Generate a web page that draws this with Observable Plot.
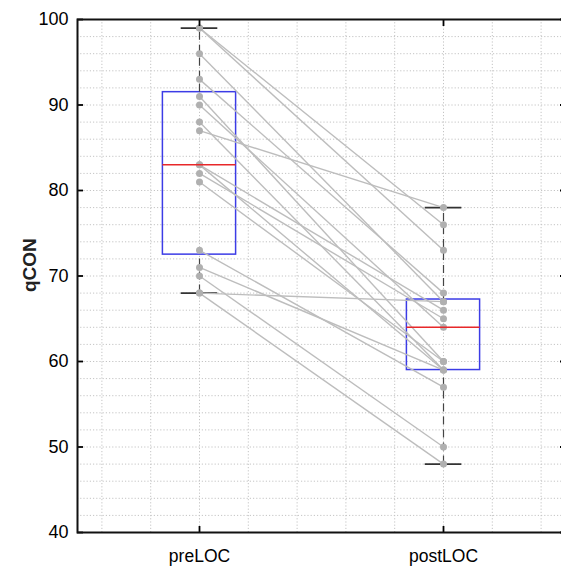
<!DOCTYPE html>
<html><head><meta charset="utf-8">
<script src="https://cdn.jsdelivr.net/npm/d3@7"></script>
<script src="https://cdn.jsdelivr.net/npm/@observablehq/plot@0.6"></script>
<style>
html,body{margin:0;padding:0;overflow:hidden;background:#fff;}
svg{max-width:none !important;display:block;}
</style></head><body><div id="chart"></div>
<script>
// ---- data ----
const categories = ["preLOC", "postLOC"];
const preLOC  = [99, 99, 96, 93, 91, 90, 88, 87, 83, 83, 82, 81, 73, 71, 70, 68, 68];
const postLOC = [76, 73, 67, 68, 60, 64, 59, 78, 66, 59, 65, 60, 57, 59, 50, 67, 48];
const yTicks = [40, 50, 60, 70, 80, 90, 100];
const yLabel = "qCON";

// MATLAB-style quantile (prctile)
function mq(vals, p) {
  const s = vals.slice().sort((a, b) => a - b), n = s.length;
  const pos = n * p + 0.5;
  if (pos <= 1) return s[0];
  if (pos >= n) return s[n - 1];
  const lo = Math.floor(pos), f = pos - lo;
  return s[lo - 1] + f * (s[lo] - s[lo - 1]);
}
const series = [preLOC, postLOC];
const stats = series.map((v, i) => {
  const q1 = mq(v, 0.25), med = mq(v, 0.5), q3 = mq(v, 0.75), iqr = q3 - q1;
  return {
    x: i + 1, q1, med, q3,
    lo: d3.min(v.filter(d => d >= q1 - 1.5 * iqr)),
    hi: d3.max(v.filter(d => d <= q3 + 1.5 * iqr))
  };
});
const pairs = preLOC.map((p, i) => ({pre: p, post: postLOC[i]}));
const points = series.flatMap((v, i) => v.map(y => ({x: i + 1, y})));

const BW = 0.15, CW = 0.075;
const gridStyle = {stroke: "#c4c4c4", strokeOpacity: 1, strokeWidth: 1, strokeDasharray: "1.2,2"};

const chart = Plot.plot({
  width: 570, height: 567,
  marginLeft: 77, marginRight: 5, marginTop: 19, marginBottom: 35,
  style: {fontFamily: "'Liberation Sans', Arial, sans-serif", fontSize: "17px", background: "white", color: "black", maxWidth: "none"},
  x: {domain: [0.5, 2.5], axis: null},
  y: {domain: [40, 100], axis: null},
  marks: [
    Plot.gridY(d3.range(40, 100.1, 2), gridStyle),
    Plot.gridX(d3.range(0.6, 2.45, 0.2), gridStyle),
    // boxes
    Plot.rect(stats, {x1: d => d.x - BW, x2: d => d.x + BW, y1: "q1", y2: "q3", fill: "none", stroke: "#3c3ce6", strokeWidth: 1.5}),
    // whiskers
    Plot.ruleX(stats, {x: "x", y1: "q3", y2: "hi", stroke: "#444", strokeWidth: 1.2, strokeDasharray: "8,5"}),
    Plot.ruleX(stats, {x: "x", y1: "lo", y2: "q1", stroke: "#444", strokeWidth: 1.2, strokeDasharray: "8,5"}),
    Plot.ruleY(stats, {y: "hi", x1: d => d.x - CW, x2: d => d.x + CW, stroke: "#333", strokeWidth: 1.8}),
    Plot.ruleY(stats, {y: "lo", x1: d => d.x - CW, x2: d => d.x + CW, stroke: "#333", strokeWidth: 1.8}),
    // paired lines
    Plot.link(pairs, {x1: () => 1, y1: "pre", x2: () => 2, y2: "post", stroke: "#bdbdbd", strokeWidth: 1.4}),
    Plot.dot(points, {x: "x", y: "y", r: 3.5, fill: "#b0b0b0", stroke: "none"}),
    // medians
    Plot.ruleY(stats, {y: "med", x1: d => d.x - BW, x2: d => d.x + BW, stroke: "#e8282a", strokeWidth: 1.5}),
    // axes
    Plot.axisY(yTicks, {anchor: "left", tickSize: 0, tickPadding: 9, fontSize: 18, label: null}),
    Plot.axisY(yTicks, {anchor: "left", tickSize: -6, text: null, strokeWidth: 1.8, label: null}),
    Plot.axisY(yTicks, {anchor: "right", tickSize: -6, text: null, strokeWidth: 1.8, label: null}),
    Plot.axisX([1, 2], {anchor: "bottom", tickSize: 0, tickPadding: 17, fontSize: 17.5, label: null, tickFormat: d => categories[d - 1]}),
    Plot.axisX([1, 2], {anchor: "bottom", tickSize: -6, text: null, strokeWidth: 1.8, label: null}),
    Plot.axisX([1, 2], {anchor: "top", tickSize: -6, text: null, strokeWidth: 1.8, label: null}),
    Plot.frame({stroke: "#111", strokeWidth: 2}),
    Plot.text([yLabel], {frameAnchor: "left", dx: -48, dy: 16, rotate: -90, fontSize: 19, fontWeight: "bold", fill: "#222"})
  ]
});
document.getElementById("chart").appendChild(chart);
</script>
</body></html>
